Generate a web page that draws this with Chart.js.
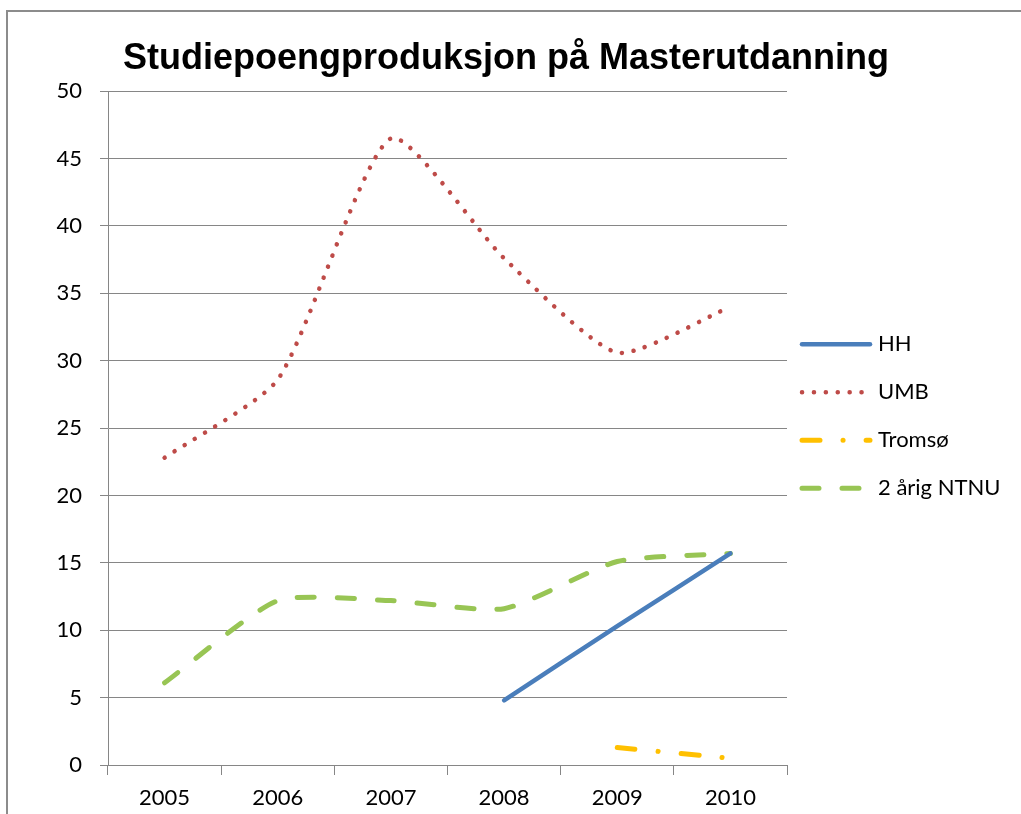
<!DOCTYPE html>
<html>
<head>
<meta charset="utf-8">
<script src="https://cdn.jsdelivr.net/npm/chart.js@4.4.1/dist/chart.umd.min.js"></script>
<style>
  html, body { margin: 0; padding: 0; background: #fff; }
  #frame { position: absolute; left: 6px; top: 10px; width: 1100px; height: 900px;
           border-left: 2px solid #8c8c8c; border-top: 2px solid #8c8c8c; }
  #wrap { position: absolute; left: 0; top: 0; width: 1021px; height: 814px; }
</style>
</head>
<body>
<div id="frame"></div>
<div id="wrap"><canvas id="chart" width="1021" height="814"></canvas></div>
<script>
const years = ["2005", "2006", "2007", "2008", "2009", "2010"];
const hh = [null, null, null, 4.8, 10.3, 15.7];
const umb = [22.8, 28.6, 46.5, 37.6, 30.6, 34.0];
const tromso = [null, null, null, null, 1.3, 0.5];
const ntnu = [6.1, 12.2, 12.2, 11.6, 15.1, 15.7];

const labelFont = "Lato, 'Open Sans', sans-serif";

// legend drawn at the right of the plot, one line + label per dataset
const sideLegend = {
  id: "sideLegend",
  afterDraw(chart) {
    const ctx = chart.ctx;
    const area = chart.chartArea;
    chart.data.datasets.forEach((ds, i) => {
      const y = area.top + 253 + i * 48;
      const x0 = area.right + 13;
      ctx.save();
      ctx.strokeStyle = ds.borderColor;
      ctx.lineWidth = ds.borderWidth;
      ctx.lineCap = ds.borderCapStyle || "butt";
      ctx.setLineDash(ds.borderDash || []);
      ctx.beginPath();
      ctx.moveTo(x0 + 2, y);
      ctx.lineTo(x0 + 70, y);
      ctx.stroke();
      ctx.setLineDash([]);
      ctx.fillStyle = "#000";
      ctx.font = "22px " + labelFont;
      ctx.textBaseline = "middle";
      ctx.fillText(ds.label, x0 + 78, y);
      ctx.restore();
    });
  }
};

new Chart(document.getElementById("chart"), {
  type: "line",
  data: {
    labels: years,
    datasets: [
      { label: "HH", data: hh, borderColor: "#4a7ebb", borderWidth: 4.5,
        borderCapStyle: "round", tension: 0.2 },
      { label: "UMB", data: umb, borderColor: "#be4b48", borderWidth: 4.5,
        borderCapStyle: "round", borderDash: [0.1, 11.8], tension: 0.2 },
      { label: "Tromsø", data: tromso, borderColor: "#ffc000", borderWidth: 5,
        borderCapStyle: "round", borderDash: [18, 23, 0.1, 23], tension: 0.2 },
      { label: "2 årig NTNU", data: ntnu, borderColor: "#98c554", borderWidth: 5,
        borderCapStyle: "round", borderDash: [17, 23], tension: 0.2 }
    ]
  },
  options: {
    responsive: false,
    animation: false,
    devicePixelRatio: 1,
    elements: { point: { radius: 0, hoverRadius: 0 } },
    layout: { padding: { left: 0, right: 9, top: 10, bottom: 0 } },
    plugins: {
      legend: { display: false },
      tooltip: { enabled: false },
      title: {
        display: true,
        text: "Studiepoengproduksjon på Masterutdanning",
        color: "#000",
        font: { family: "'Liberation Sans', Arial, sans-serif", size: 36, weight: "bold" },
        padding: { top: 27, bottom: 11 }
      }
    },
    scales: {
      x: {
        offset: true,
        grid: { offset: true, drawOnChartArea: false, drawTicks: true, tickLength: 10, color: "#868686" },
        border: { color: "#868686", width: 1 },
        ticks: { color: "#000", font: { family: labelFont, size: 22, lineHeight: 1 }, padding: 12, maxRotation: 0 },
        afterFit(s) { s.height = 49; }
      },
      y: {
        min: 0, max: 50,
        grid: { color: "#868686", tickLength: 8 },
        border: { color: "#868686", width: 1 },
        ticks: { stepSize: 5, color: "#000", font: { family: labelFont, size: 22 }, padding: 18 },
        afterFit(s) { s.width = 108; }
      },
      yRight: {
        position: "right",
        display: true,
        grid: { display: false },
        border: { display: false },
        ticks: { display: false },
        afterFit(s) { s.width = 225; }
      }
    }
  },
  plugins: [sideLegend]
});
</script>
</body>
</html>
